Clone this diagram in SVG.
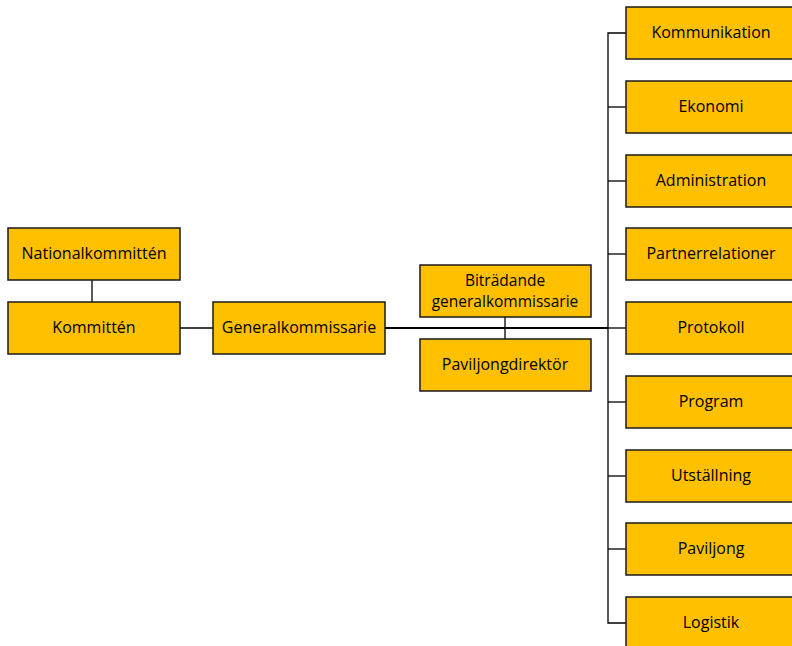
<svg xmlns="http://www.w3.org/2000/svg" width="792" height="646" viewBox="0 0 792 646">
<style>
.box{fill:#FFC000;stroke:#1a1a1a;stroke-width:1.5}
.t{font-family:"Open Sans","Liberation Sans",sans-serif;font-size:16px;fill:#000;text-anchor:middle;dominant-baseline:central}
.c{stroke:#000;stroke-width:1.3;fill:none}
.m{stroke:#000;stroke-width:2.2;fill:none}
</style>
<rect width="792" height="646" fill="#fff"/>
<g id="connectors">
<line class="c" x1="92" y1="280" x2="92" y2="302"/>
<line class="c" x1="180" y1="328" x2="213" y2="328"/>
<line class="m" x1="385" y1="328" x2="608" y2="328"/>
<line class="c" x1="608" y1="328" x2="626" y2="328"/>
<line class="c" x1="505" y1="317" x2="505" y2="339"/>
<path class="c" d="M626 33H608V623H626"/>
<line class="c" x1="608" y1="107" x2="626" y2="107"/>
<line class="c" x1="608" y1="181" x2="626" y2="181"/>
<line class="c" x1="608" y1="254" x2="626" y2="254"/>
<line class="c" x1="608" y1="402" x2="626" y2="402"/>
<line class="c" x1="608" y1="476" x2="626" y2="476"/>
<line class="c" x1="608" y1="549" x2="626" y2="549"/>
</g>
<g id="nationalkommitten"><rect class="box" x="8" y="228" width="172" height="52"/><text class="t" x="94" y="253">Nationalkommittén</text></g>
<g id="kommitten"><rect class="box" x="8" y="302" width="172" height="52"/><text class="t" x="94" y="327">Kommittén</text></g>
<g id="generalkommissarie"><rect class="box" x="213" y="302" width="172" height="52"/><text class="t" x="299" y="327">Generalkommissarie</text></g>
<g id="bitradande"><rect class="box" x="420" y="265" width="171" height="52"/><text class="t" x="505" y="280" style="font-size:15.5px">Biträdande</text><text class="t" x="505" y="300.5" style="font-size:15.5px">generalkommissarie</text></g>
<g id="paviljongdirektor"><rect class="box" x="420" y="339" width="171" height="52"/><text class="t" x="505" y="364">Paviljongdirektör</text></g>
<g id="kommunikation"><rect class="box" x="626" y="7" width="170" height="52"/><text class="t" x="711" y="32">Kommunikation</text></g>
<g id="ekonomi"><rect class="box" x="626" y="81" width="170" height="52"/><text class="t" x="711" y="106">Ekonomi</text></g>
<g id="administration"><rect class="box" x="626" y="155" width="170" height="52"/><text class="t" x="711" y="180">Administration</text></g>
<g id="partnerrelationer"><rect class="box" x="626" y="228" width="170" height="52"/><text class="t" x="711" y="253">Partnerrelationer</text></g>
<g id="protokoll"><rect class="box" x="626" y="302" width="170" height="52"/><text class="t" x="711" y="327">Protokoll</text></g>
<g id="program"><rect class="box" x="626" y="376" width="170" height="52"/><text class="t" x="711" y="401">Program</text></g>
<g id="utstallning"><rect class="box" x="626" y="450" width="170" height="52"/><text class="t" x="711" y="475">Utställning</text></g>
<g id="paviljong"><rect class="box" x="626" y="523" width="170" height="52"/><text class="t" x="711" y="548">Paviljong</text></g>
<g id="logistik"><rect class="box" x="626" y="597" width="170" height="52"/><text class="t" x="711" y="622">Logistik</text></g>
</svg>
